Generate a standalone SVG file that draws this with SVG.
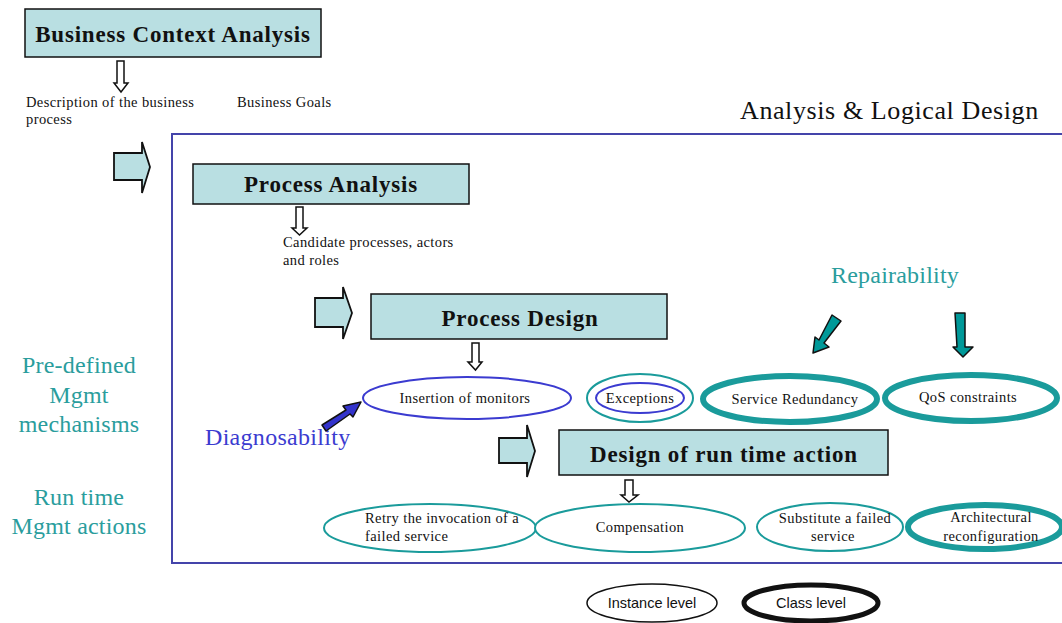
<svg xmlns="http://www.w3.org/2000/svg" width="1062" height="623" viewBox="0 0 1062 623">
  <style>
    .box { fill: #b9dfe2; stroke: #111; stroke-width: 1.5; }
    .title { font-family: "Liberation Serif", serif; font-weight: bold; font-size: 23px; letter-spacing: 0.8px; fill: #111; text-anchor: middle; }
    .note { font-family: "Liberation Serif", serif; font-size: 14.5px; letter-spacing: 0.4px; fill: #111; }
    .lbl { font-family: "Liberation Serif", serif; font-size: 14.5px; letter-spacing: 0.4px; fill: #111; text-anchor: middle; }
    .teal { font-family: "Liberation Serif", serif; font-size: 24px; letter-spacing: 0.2px; fill: #2a9d9d; text-anchor: middle; }
    .blue { font-family: "Liberation Serif", serif; font-size: 24px; letter-spacing: 0.3px; fill: #3b3bd0; }
    .downarrow { fill: #fff; stroke: #111; stroke-width: 1.5; stroke-linejoin: miter; }
    .fatarrow { fill: #b9dfe2; stroke: #111; stroke-width: 1.8; }
    .inst { fill: #fff; stroke: #1a9b9b; stroke-width: 2; }
    .cls { fill: #fff; stroke: #1a9b9b; stroke-width: 6; }
    .mon { fill: #fff; stroke: #3b3bd0; stroke-width: 2; }
    .legend { font-family: "Liberation Sans", sans-serif; font-size: 14.5px; fill: #111; text-anchor: middle; }
  </style>

  <!-- area frame -->
  <rect id="area" x="172" y="134" width="900" height="429" fill="none" stroke="#4444aa" stroke-width="2"/>
  <text x="740" y="119" font-family="Liberation Serif, serif" font-size="26" letter-spacing="0.6" fill="#111">Analysis &amp; Logical Design</text>

  <!-- side captions -->
  <text class="teal" x="79" y="373">Pre-defined</text>
  <text class="teal" x="79" y="403">Mgmt</text>
  <text class="teal" x="79" y="432">mechanisms</text>
  <text class="teal" x="79" y="505">Run time</text>
  <text class="teal" x="79" y="534">Mgmt actions</text>

  <!-- phase boxes -->
  <g id="business-context-analysis">
    <rect class="box" x="25" y="9" width="296" height="48"/>
    <text class="title" x="173" y="42" font-size="24">Business Context Analysis</text>
  </g>
  <g id="process-analysis">
    <rect class="box" x="193" y="164" width="276" height="40"/>
    <text class="title" x="331" y="192">Process Analysis</text>
  </g>
  <g id="process-design">
    <rect class="box" x="371" y="294" width="296" height="45"/>
    <text class="title" x="520" y="326">Process Design</text>
  </g>
  <g id="design-run-time-action">
    <rect class="box" x="559" y="430" width="329" height="45"/>
    <text class="title" x="724" y="462">Design of run time action</text>
  </g>

  <!-- intermediate notes -->
  <g id="notes">
    <text class="note" x="26" y="107">Description of the business</text>
    <text class="note" x="26" y="124">process</text>
    <text class="note" x="237" y="107">Business Goals</text>
    <text class="note" x="283" y="247">Candidate processes, actors</text>
    <text class="note" x="283" y="265">and roles</text>
  </g>

  <!-- pre-defined mechanisms -->
  <g id="insertion-of-monitors">
    <ellipse class="mon" cx="467" cy="398" rx="104" ry="21"/>
    <text class="lbl" x="465" y="403">Insertion of monitors</text>
  </g>
  <g id="exceptions">
    <ellipse class="inst" cx="640" cy="398" rx="53" ry="24"/>
    <ellipse class="mon" cx="640" cy="398" rx="44" ry="15"/>
    <text class="lbl" x="640" y="403">Exceptions</text>
  </g>
  <g id="service-redundancy">
    <ellipse class="cls" cx="790" cy="399" rx="87" ry="23"/>
    <text class="lbl" x="795" y="404">Service Redundancy</text>
  </g>
  <g id="qos-constraints">
    <ellipse class="cls" cx="971" cy="398" rx="86" ry="23"/>
    <text class="lbl" x="968" y="402">QoS constraints</text>
  </g>

  <!-- run time actions -->
  <g id="retry">
    <ellipse class="inst" cx="430" cy="528" rx="106" ry="24"/>
    <text class="note" x="365" y="523">Retry the invocation of a</text>
    <text class="note" x="365" y="541">failed service</text>
  </g>
  <g id="compensation">
    <ellipse class="inst" cx="640" cy="528" rx="105" ry="24"/>
    <text class="lbl" x="640" y="532">Compensation</text>
  </g>
  <g id="substitute">
    <ellipse class="inst" cx="830" cy="527" rx="73" ry="24"/>
    <text class="lbl" x="835" y="523">Substitute a failed</text>
    <text class="lbl" x="833" y="541">service</text>
  </g>
  <g id="architectural-reconfiguration">
    <ellipse class="cls" cx="985" cy="527" rx="77" ry="22"/>
    <text class="lbl" x="991" y="522">Architectural</text>
    <text class="lbl" x="991" y="541">reconfiguration</text>
  </g>

  <!-- qualities -->
  <text class="teal" x="895" y="283">Repairability</text>
  <text class="blue" x="205" y="445">Diagnosability</text>

  <!-- legend -->
  <g id="legend-instance">
    <ellipse cx="652" cy="603" rx="65" ry="19" fill="#fff" stroke="#111" stroke-width="1.5"/>
    <text class="legend" x="652" y="608">Instance level</text>
  </g>
  <g id="legend-class">
    <ellipse cx="811" cy="603" rx="67" ry="18" fill="#fff" stroke="#111" stroke-width="5"/>
    <text class="legend" x="811" y="608">Class level</text>
  </g>

  <!-- connectors -->
  <g id="connectors">
    <!-- hollow down arrows -->
    <polygon class="downarrow" points="117,61 124,61 124,83 128,83 121,92 114,83 117,83"/>
    <polygon class="downarrow" points="296,207 303,207 303,228 307,228 299.5,235 292,228 296,228"/>
    <polygon class="downarrow" points="472,343 479,343 479,362 482,362 475.5,370 468,362 472,362"/>
    <polygon class="downarrow" points="625,480 633,480 633,495 638,495 629,502 621,495 625,495"/>

    <!-- fat right arrows -->
    <polygon class="fatarrow" points="114,153 142,153 142,142 150,167 142,193 142,180 114,180"/>
    <polygon class="fatarrow" points="315,298 343,298 343,287 352,313 343,339 343,327 315,327"/>
    <polygon class="fatarrow" points="499,438 527,438 527,425 535,451 527,477 527,463 499,463"/>

    <!-- repairability arrows -->
    <polygon points="832,315 841,321 824,343 829,347 813,353 815,337 819,340" fill="#009999" stroke="#111" stroke-width="1.5" stroke-linejoin="round"/>
    <polygon points="955,313 965,313 965,347 973,347 963,357 953,347 957,347" fill="#009999" stroke="#111" stroke-width="1.5" stroke-linejoin="round"/>

    <!-- diagnosability arrow -->
    <polygon points="322,425 346,410 343,406 361,402 353,417 350,414 326,431" fill="#3333cc" stroke="#111" stroke-width="1.5" stroke-linejoin="round"/>
  </g>
</svg>
